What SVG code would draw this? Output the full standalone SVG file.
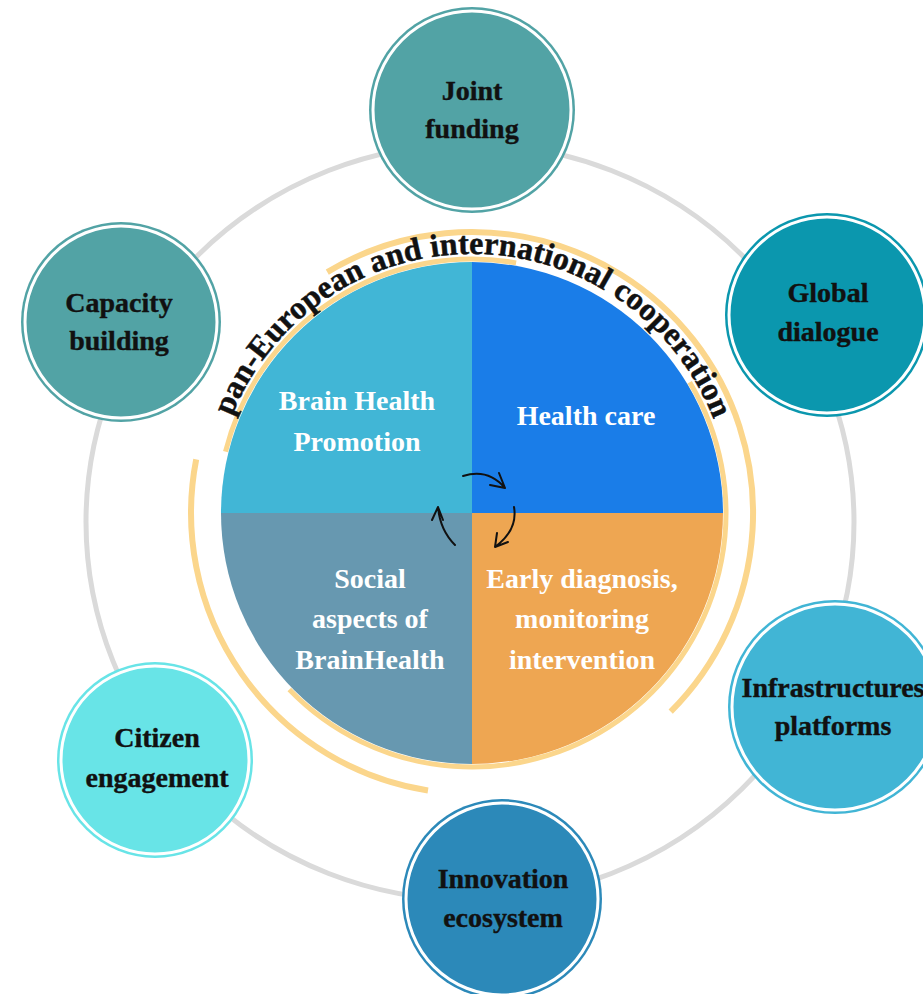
<svg xmlns="http://www.w3.org/2000/svg" width="923" height="994" viewBox="0 0 923 994">
<style>
.ring{fill:none;stroke:#fff;stroke-width:3}
.lbl{font-family:"Liberation Serif","Times New Roman",serif;font-weight:bold;font-size:28px;fill:#111;text-anchor:middle;stroke:#111;stroke-width:0.4}
.ctr{font-family:"Liberation Serif","Times New Roman",serif;font-weight:bold;font-size:28px;fill:#fff;text-anchor:middle}
.yel{fill:none;stroke:#FBD68C;stroke-width:6;stroke-linecap:butt}
.arr{fill:none;stroke:#111;stroke-width:2;stroke-linecap:round;stroke-linejoin:round}
</style>
<defs>
<path id="tp" d="M221.8,446 A259,259 0 0 1 722.2,446"/>
</defs>
<rect width="923" height="994" fill="#fff"/>
<g id="connectors">
<ellipse cx="470" cy="522" rx="384" ry="378" fill="none" stroke="#DADADA" stroke-width="5"/>
</g>
<g id="core">
<path d="M472,513 L221,513 A251,251 0 0 1 472,262 Z" fill="#41B6D6"/>
<path d="M472,513 L472,262 A251,251 0 0 1 723,513 Z" fill="#1A7DE8"/>
<path d="M472,513 L723,513 A251,251 0 0 1 472,764 Z" fill="#EEA652"/>
<path d="M472,513 L472,764 A251,251 0 0 1 221,513 Z" fill="#6798B0"/>
<path class="yel" style="stroke-width:5" d="M225.5,451.6 A254,254 0 0 1 516.1,262.9"/>
<path class="yel" style="stroke-width:5" d="M689.7,382.2 A254,254 0 0 1 289.3,689.5"/>
<path class="yel" d="M327.3,272.1 A281,281 0 0 1 670.7,711.7"/>
<path class="yel" d="M428,790.5 A281,281 0 0 1 196.2,459.4"/>
<text font-family="Liberation Serif, Times New Roman, serif" font-weight="bold" font-size="32" fill="#111" stroke="#111" stroke-width="0.5"><textPath href="#tp" startOffset="31" textLength="619" lengthAdjust="spacing">pan-European and international cooperation</textPath></text>
</g>
<g id="q-promotion"><text class="ctr" x="357" y="410">Brain Health</text><text class="ctr" x="357" y="451">Promotion</text></g>
<g id="q-healthcare"><text class="ctr" x="586" y="425">Health care</text></g>
<g id="q-social"><text class="ctr" x="370" y="588">Social</text><text class="ctr" x="370" y="628">aspects of</text><text class="ctr" x="370" y="669">BrainHealth</text></g>
<g id="q-early"><text class="ctr" x="582" y="588">Early diagnosis,</text><text class="ctr" x="582" y="628">monitoring</text><text class="ctr" x="582" y="669">intervention</text></g>
<g id="cycle-arrows">
<path class="arr" d="M463,476 Q488,468 505,488 M499,473 L505,488 L490,485"/>
<path class="arr" d="M514,507 Q518,530 495,547 M497,533 L495,547 L508,542"/>
<path class="arr" d="M455,545 Q440,530 438,507 M432,520 L438,507 L443,520"/>
</g>
<g id="joint-funding">
<circle cx="472" cy="110" r="103" fill="#52A3A5"/><circle class="ring" cx="472" cy="110" r="99"/>
<text class="lbl" x="472" y="100">Joint</text><text class="lbl" x="472" y="138">funding</text>
</g>
<g id="capacity-building">
<circle cx="121" cy="322" r="100" fill="#52A3A5"/><circle class="ring" cx="121" cy="322" r="96"/>
<text class="lbl" x="119" y="312">Capacity</text><text class="lbl" x="119" y="350">building</text>
</g>
<g id="global-dialogue">
<circle cx="827" cy="315" r="102" fill="#0B97AE"/><circle class="ring" cx="827" cy="315" r="98"/>
<text class="lbl" x="828" y="302">Global</text><text class="lbl" x="828" y="341">dialogue</text>
</g>
<g id="infrastructures-platforms">
<circle cx="835" cy="707" r="107" fill="#41B5D5"/><circle class="ring" cx="835" cy="707" r="103"/>
<text class="lbl" x="833" y="697">Infrastructures</text><text class="lbl" x="833" y="735">platforms</text>
</g>
<g id="innovation-ecosystem">
<circle cx="502" cy="899" r="100" fill="#2C89B9"/><circle class="ring" cx="502" cy="899" r="96"/>
<text class="lbl" x="503" y="888">Innovation</text><text class="lbl" x="503" y="927">ecosystem</text>
</g>
<g id="citizen-engagement">
<circle cx="155" cy="760" r="98" fill="#68E4E7"/><circle class="ring" cx="155" cy="760" r="94"/>
<text class="lbl" x="157" y="747">Citizen</text><text class="lbl" x="157" y="787">engagement</text>
</g>
</svg>
